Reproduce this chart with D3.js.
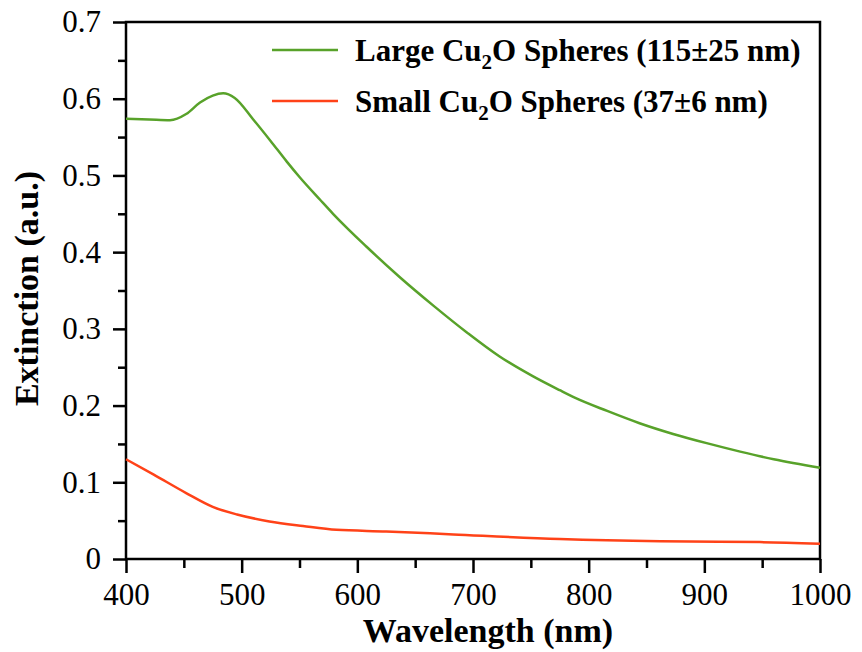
<!DOCTYPE html>
<html>
  <head>
    <script src="https://d3js.org/d3.v7.min.js"></script>
    <style>
      body { margin: 0; background: #fff; }
      text { font-family: "Liberation Serif", "Times New Roman", serif; }
    </style>
  </head>
  <body>
    <script>

    // wavelength (nm) and extinction values
    var largeWave = [400, 420, 438, 452, 464, 475, 484, 494, 510, 525, 539, 550, 568,
      579, 608, 637, 666, 695, 723, 752, 775, 787, 816, 844, 873, 902, 931, 960, 1000];
    var largeExt = [0.574, 0.573, 0.572, 0.580, 0.595, 0.604, 0.607, 0.601, 0.573, 0.545,
      0.518, 0.498, 0.468, 0.450, 0.407, 0.367, 0.330, 0.295, 0.264, 0.238, 0.220,
      0.211, 0.193, 0.177, 0.163, 0.151, 0.140, 0.130, 0.119];

    var smallWave = [400, 424, 452, 475, 496, 524, 553, 582, 625, 683, 775, 862, 948, 1000];
    var smallExt = [0.130, 0.110, 0.086, 0.068, 0.058, 0.049, 0.043, 0.038, 0.036,
      0.032, 0.026, 0.023, 0.022, 0.020];

    var xTicks = [400, 500, 600, 700, 800, 900, 1000];
    var yTicks = [0, 0.1, 0.2, 0.3, 0.4, 0.5, 0.6, 0.7];

    var seriesNames = ["Large Cu", "Small Cu"];
    var seriesSizes = ["Spheres (115\u00b125 nm)", "Spheres (37\u00b16 nm)"];
    var seriesColors = ["#58a22a", "#ff4218"];

    var w = 862, h = 652;
    var mLeft = 126, mRight = 820, mTop = 22, mBottom = 559;

    var svg = d3.select("body").append("svg")
      .attr("width", w)
      .attr("height", h);

    var x = d3.scaleLinear().domain([400, 1000]).range([mLeft, mRight]);
    var y = d3.scaleLinear().domain([0, 0.7]).range([mBottom, mTop]);

    // minor ticks halfway between the majors
    var xMinor = d3.range(450, 1000, 100);
    var yMinor = d3.range(0.05, 0.7, 0.1);

    svg.append("g")
      .attr("transform", "translate(0," + mBottom + ")")
      .call(d3.axisBottom(x).tickValues(xTicks).tickSize(14).tickPadding(10)
        .tickFormat(d3.format("d")));
    svg.append("g")
      .attr("transform", "translate(0," + mBottom + ")")
      .call(d3.axisBottom(x).tickValues(xMinor).tickSize(9).tickFormat(""));

    svg.append("g")
      .attr("transform", "translate(" + mLeft + ",0)")
      .call(d3.axisLeft(y).tickValues(yTicks).tickSize(13).tickPadding(12)
        .tickFormat(function(d) { return d === 0 ? "0" : d3.format(".1f")(d); }));
    svg.append("g")
      .attr("transform", "translate(" + mLeft + ",0)")
      .call(d3.axisLeft(y).tickValues(yMinor).tickSize(8).tickFormat(""));

    svg.selectAll(".domain").remove();
    svg.selectAll(".tick line").attr("stroke", "#000").attr("stroke-width", 2.5);
    svg.selectAll(".tick text")
      .attr("font-size", "31px")
      .attr("fill", "#000")
      .style("font-family", "'Liberation Serif', serif");

    // frame
    svg.append("rect")
      .attr("x", mLeft)
      .attr("y", mTop)
      .attr("width", mRight - mLeft)
      .attr("height", mBottom - mTop)
      .attr("fill", "none")
      .attr("stroke", "#000")
      .attr("stroke-width", 2.5);

    var line = d3.line()
      .x(function(d) { return x(d[0]); })
      .y(function(d) { return y(d[1]); })
      .curve(d3.curveMonotoneX);

    var series = [
      d3.zip(largeWave, largeExt),
      d3.zip(smallWave, smallExt)
    ];

    svg.selectAll(".series")
      .data(series)
      .enter()
      .append("path")
      .attr("class", "series")
      .attr("d", line)
      .attr("fill", "none")
      .attr("stroke", function(d, i) { return seriesColors[i]; })
      .attr("stroke-width", 2.5);

    // legend
    var legend = svg.selectAll(".legend")
      .data(seriesNames)
      .enter()
      .append("g")
      .attr("class", "legend")
      .attr("transform", function(d, i) { return "translate(272," + (50 + i * 51) + ")"; });

    legend.append("line")
      .attr("x1", 0)
      .attr("x2", 66)
      .attr("stroke", function(d, i) { return seriesColors[i]; })
      .attr("stroke-width", 2.5);

    var lt = legend.append("text")
      .attr("x", 83)
      .attr("y", 11)
      .attr("font-size", "31px")
      .attr("font-weight", "bold");
    lt.append("tspan").text(function(d) { return d; });
    lt.append("tspan").attr("dy", 8).attr("font-size", "21px").text("2");
    lt.append("tspan").attr("dy", -8).text(function(d, i) { return "O " + seriesSizes[i]; });

    // axis titles
    svg.append("text")
      .attr("x", (mLeft + mRight) / 2 + 15)
      .attr("y", 642)
      .attr("text-anchor", "middle")
      .attr("font-size", "34px")
      .attr("font-weight", "bold")
      .text("Wavelength (nm)");

    svg.append("text")
      .attr("transform", "translate(38," + ((mTop + mBottom) / 2 - 2) + ") rotate(-90)")
      .attr("text-anchor", "middle")
      .attr("font-size", "34px")
      .attr("font-weight", "bold")
      .text("Extinction (a.u.)");

    </script>
  </body>
</html>
